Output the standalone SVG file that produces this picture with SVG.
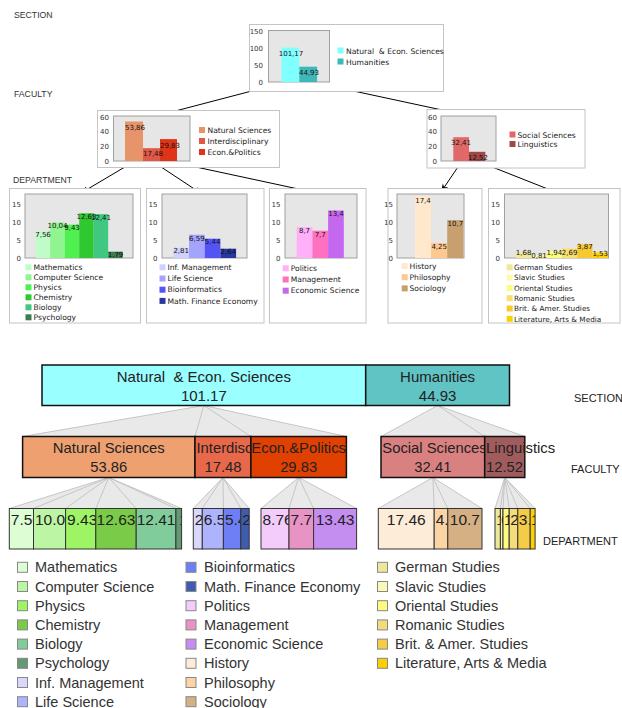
<svg xmlns="http://www.w3.org/2000/svg" width="622" height="708" viewBox="0 0 622 708">
<style>
.panel{fill:#fff;stroke:#c4c4c4;stroke-width:1}
.plot{fill:#e6e6e6;stroke:#a0a0a0;stroke-width:1}
.ax{font-family:"DejaVu Sans",sans-serif;font-size:7px;fill:#333;text-anchor:end}
.val{font-family:"DejaVu Sans",sans-serif;font-size:7px;fill:#111;text-anchor:middle}
.leg{font-family:"DejaVu Sans",sans-serif;font-size:7.6px;fill:#222}
.leg5{font-family:"DejaVu Sans",sans-serif;font-size:7.3px;fill:#222}
.lvl{font-family:"Liberation Sans",Arial,sans-serif;font-size:8.7px;fill:#333}
.lvlb{font-family:"Liberation Sans",Arial,sans-serif;font-size:11px;fill:#222}
.tm{font-family:"Liberation Sans",Arial,sans-serif;font-size:15px;fill:#222}
.tf{font-family:"Liberation Sans",Arial,sans-serif;font-size:14.8px;fill:#222}
.td{font-family:"Liberation Sans",Arial,sans-serif;font-size:15.5px;fill:#222}
.tl{font-family:"Liberation Sans",Arial,sans-serif;font-size:14.5px;fill:#333}
.c{text-anchor:middle}
.bx1{stroke:#111;stroke-width:1.5}
.bx2{stroke:#333;stroke-width:1}
.ls{stroke:#888;stroke-width:1}
.arr{stroke:#000;stroke-width:1;fill:none;marker-end:url(#ah)}
.fan{fill:#e9e9e9;stroke:none}
.fl{stroke:#c6c6c6;stroke-width:1;fill:none}
</style>
<defs>
<marker id="ah" viewBox="0 0 10 10" refX="10" refY="5" markerWidth="8" markerHeight="8" orient="auto" markerUnits="userSpaceOnUse"><path d="M0,1 L10,5 L0,9 L3,5 z" fill="#000"/></marker>
<clipPath id="c1"><rect x="9.3" y="508.5" width="24.2" height="40.5"/></clipPath>
<clipPath id="c2"><rect x="33.5" y="508.5" width="32.1" height="40.5"/></clipPath>
<clipPath id="c3"><rect x="65.6" y="508.5" width="30.2" height="40.5"/></clipPath>
<clipPath id="c4"><rect x="95.8" y="508.5" width="40.4" height="40.5"/></clipPath>
<clipPath id="c5"><rect x="136.2" y="508.5" width="39.7" height="40.5"/></clipPath>
<clipPath id="c6"><rect x="175.9" y="508.5" width="5.7" height="40.5"/></clipPath>
<clipPath id="c7"><rect x="193.3" y="508.5" width="9" height="40.5"/></clipPath>
<clipPath id="c8"><rect x="202.3" y="508.5" width="21.1" height="40.5"/></clipPath>
<clipPath id="c9"><rect x="223.4" y="508.5" width="17.4" height="40.5"/></clipPath>
<clipPath id="c10"><rect x="240.8" y="508.5" width="8.4" height="40.5"/></clipPath>
<clipPath id="c11"><rect x="261" y="508.5" width="28" height="40.5"/></clipPath>
<clipPath id="c12"><rect x="289" y="508.5" width="24.6" height="40.5"/></clipPath>
<clipPath id="c13"><rect x="313.6" y="508.5" width="43" height="40.5"/></clipPath>
<clipPath id="c14"><rect x="378.3" y="508.5" width="55.9" height="40.5"/></clipPath>
<clipPath id="c15"><rect x="434.2" y="508.5" width="13.6" height="40.5"/></clipPath>
<clipPath id="c16"><rect x="447.8" y="508.5" width="34.2" height="40.5"/></clipPath>
<clipPath id="c17"><rect x="495" y="508.5" width="5.4" height="40.5"/></clipPath>
<clipPath id="c18"><rect x="500.4" y="508.5" width="2.6" height="40.5"/></clipPath>
<clipPath id="c19"><rect x="503" y="508.5" width="6.2" height="40.5"/></clipPath>
<clipPath id="c20"><rect x="509.2" y="508.5" width="8.6" height="40.5"/></clipPath>
<clipPath id="c21"><rect x="517.8" y="508.5" width="12.4" height="40.5"/></clipPath>
<clipPath id="c22"><rect x="530.2" y="508.5" width="4.9" height="40.5"/></clipPath>
</defs>
<rect width="622" height="708" fill="#fff"/>

<g id="level-labels">
<text class="lvl" x="14" y="18">SECTION</text>
<text class="lvl" x="14" y="97">FACULTY</text>
<text class="lvl" x="13" y="183">DEPARTMENT</text>
<text class="lvlb" x="574" y="402">SECTION</text>
<text class="lvlb" x="571" y="473">FACULTY</text>
<text class="lvlb" x="543" y="545">DEPARTMENT</text>
</g>

<g id="connectors">
<line class="arr" x1="290" y1="81" x2="160" y2="115"/>
<line class="arr" x1="307" y1="81" x2="470" y2="116"/>
<line class="arr" x1="135" y1="161" x2="81" y2="193"/>
<line class="arr" x1="152" y1="161" x2="202" y2="194"/>
<line class="arr" x1="168" y1="161" x2="317" y2="193"/>
<line class="arr" x1="462" y1="161" x2="441" y2="192"/>
<line class="arr" x1="477" y1="161" x2="563" y2="195"/>
<polygon class="fan" points="203.85,405.5 22.6,436.5 346.4,436.5"/>
<path class="fl" d="M203.85,405.5 L22.6,436.5 M203.85,405.5 L195,436.5 M203.85,405.5 L250.9,436.5 M203.85,405.5 L346.4,436.5"/>
<polygon class="fan" points="437.6,405.5 381,436.5 524.8,436.5"/>
<path class="fl" d="M437.6,405.5 L381,436.5 M437.6,405.5 L484.7,436.5 M437.6,405.5 L524.8,436.5"/>
<polygon class="fan" points="108.8,477.5 9.3,508.5 181.6,508.5"/>
<path class="fl" d="M108.8,477.5 L9.3,508.5 M108.8,477.5 L33.5,508.5 M108.8,477.5 L65.6,508.5 M108.8,477.5 L95.8,508.5 M108.8,477.5 L136.2,508.5 M108.8,477.5 L175.9,508.5 M108.8,477.5 L181.6,508.5"/>
<polygon class="fan" points="222.95,477.5 193.3,508.5 249.2,508.5"/>
<path class="fl" d="M222.95,477.5 L193.3,508.5 M222.95,477.5 L202.3,508.5 M222.95,477.5 L223.4,508.5 M222.95,477.5 L240.8,508.5 M222.95,477.5 L249.2,508.5"/>
<polygon class="fan" points="298.65,477.5 261,508.5 356.6,508.5"/>
<path class="fl" d="M298.65,477.5 L261,508.5 M298.65,477.5 L289,508.5 M298.65,477.5 L313.6,508.5 M298.65,477.5 L356.6,508.5"/>
<polygon class="fan" points="432.85,477.5 378.3,508.5 482,508.5"/>
<path class="fl" d="M432.85,477.5 L378.3,508.5 M432.85,477.5 L434.2,508.5 M432.85,477.5 L447.8,508.5 M432.85,477.5 L482,508.5"/>
<polygon class="fan" points="504.75,477.5 495,508.5 535.1,508.5"/>
<path class="fl" d="M504.75,477.5 L495,508.5 M504.75,477.5 L500.4,508.5 M504.75,477.5 L503,508.5 M504.75,477.5 L509.2,508.5 M504.75,477.5 L517.8,508.5 M504.75,477.5 L530.2,508.5 M504.75,477.5 L535.1,508.5"/>
</g>

<g id="chart-section">
<rect class="panel" x="249.5" y="24.5" width="194" height="67"/>
<rect class="plot" x="268.5" y="30.5" width="61" height="51.5"/>
<text class="ax" x="263" y="33.5">150</text>
<text class="ax" x="263" y="50.5">100</text>
<text class="ax" x="263" y="67.5">50</text>
<text class="ax" x="263" y="84.5">0</text>
<rect x="281.5" y="47.6" width="17.8" height="34.4" fill="#80ffff"/>
<rect x="299.3" y="66.7" width="17.8" height="15.3" fill="#40b8b8"/>
<text class="val" x="291" y="55.5">101,17</text>
<text class="val" x="309" y="74.5">44,93</text>
<rect x="337.5" y="47.5" width="6" height="6" fill="#80ffff"/>
<text class="leg" x="346" y="54">Natural&#160; &amp; Econ. Sciences</text>
<rect x="337.5" y="58.5" width="6" height="6" fill="#40b8b8"/>
<text class="leg" x="346" y="65">Humanities</text>
</g>

<g id="chart-faculty-nat">
<rect class="panel" x="97.5" y="110.5" width="182" height="57"/>
<rect class="plot" x="113.5" y="116" width="76.5" height="45"/>
<text class="ax" x="109" y="119.5">60</text>
<text class="ax" x="109" y="134.2">40</text>
<text class="ax" x="109" y="148.8">20</text>
<text class="ax" x="109" y="163.5">0</text>
<rect x="125" y="121.5" width="18" height="39.5" fill="#e8946a"/>
<rect x="143" y="148.2" width="17" height="12.8" fill="#e05848"/>
<rect x="160" y="139.1" width="17" height="21.9" fill="#e03418"/>
<text class="val" x="135" y="130">53,86</text>
<text class="val" x="153" y="155.5">17,48</text>
<text class="val" x="170" y="147.5">29,83</text>
<rect x="199" y="127" width="6" height="6" fill="#e8946a"/>
<text class="leg" x="207.5" y="133">Natural Sciences</text>
<rect x="199" y="138" width="6" height="6" fill="#e05848"/>
<text class="leg" x="207.5" y="144">Interdisciplinary</text>
<rect x="199" y="149" width="6" height="6" fill="#e03418"/>
<text class="leg" x="207.5" y="155">Econ.&amp;Politics</text>
</g>

<g id="chart-faculty-hum">
<rect class="panel" x="427" y="109.5" width="158" height="58.5"/>
<rect class="plot" x="441" y="116" width="55" height="45"/>
<text class="ax" x="437" y="119.5">60</text>
<text class="ax" x="437" y="134.2">40</text>
<text class="ax" x="437" y="148.8">20</text>
<text class="ax" x="437" y="163.5">0</text>
<rect x="453.3" y="137.2" width="15.7" height="23.8" fill="#e06868"/>
<rect x="469" y="151.8" width="16.3" height="9.2" fill="#a04848"/>
<text class="val" x="461" y="144.5">32,41</text>
<text class="val" x="478" y="159.5">12,52</text>
<rect x="509.5" y="131.5" width="6" height="6" fill="#e06868"/>
<text class="leg" x="517.5" y="137.5">Social Sciences</text>
<rect x="509.5" y="141" width="6" height="6" fill="#a04848"/>
<text class="leg" x="517.5" y="147">Linguistics</text>
</g>

<g id="chart-dept-nat">
<rect class="panel" x="9.5" y="188.5" width="131" height="134.5"/>
<rect class="plot" x="25" y="194" width="108" height="64"/>
<text class="ax" x="21" y="207.4">15</text>
<text class="ax" x="21" y="225.1">10</text>
<text class="ax" x="21" y="242.8">5</text>
<text class="ax" x="21" y="260.5">0</text>
<rect x="35.7" y="231.2" width="14.5" height="26.8" fill="#c0fcc8"/>
<rect x="50.2" y="222.5" width="14.5" height="35.5" fill="#90f490"/>
<rect x="64.7" y="224.6" width="14.5" height="33.4" fill="#50f050"/>
<rect x="79.2" y="213.3" width="14.5" height="44.7" fill="#30c830"/>
<rect x="93.7" y="214.1" width="14.5" height="43.9" fill="#40c880"/>
<rect x="108.2" y="251.7" width="14.5" height="6.3" fill="#3c7c50"/>
<text class="val" x="43" y="236.9">7,56</text>
<text class="val" x="57.5" y="228.2">10,04</text>
<text class="val" x="72" y="230.3">9,43</text>
<text class="val" x="86.5" y="218.5">12,63</text>
<text class="val" x="101" y="219.8">12,41</text>
<text class="val" x="115.5" y="257.4">1,79</text>
<rect x="25.5" y="264.3" width="6" height="6" fill="#c0fcc8"/>
<text class="leg" x="33.5" y="270">Mathematics</text>
<rect x="25.5" y="274.3" width="6" height="6" fill="#90f490"/>
<text class="leg" x="33.5" y="280">Computer Science</text>
<rect x="25.5" y="284.3" width="6" height="6" fill="#50f050"/>
<text class="leg" x="33.5" y="290">Physics</text>
<rect x="25.5" y="294.3" width="6" height="6" fill="#30c830"/>
<text class="leg" x="33.5" y="300">Chemistry</text>
<rect x="25.5" y="304.3" width="6" height="6" fill="#40c880"/>
<text class="leg" x="33.5" y="310">Biology</text>
<rect x="25.5" y="314.3" width="6" height="6" fill="#3c7c50"/>
<text class="leg" x="33.5" y="320">Psychology</text>
</g>

<g id="chart-dept-int">
<rect class="panel" x="146.5" y="188.5" width="117.5" height="134.5"/>
<rect class="plot" x="162" y="194" width="85" height="64"/>
<text class="ax" x="157.5" y="207.4">15</text>
<text class="ax" x="157.5" y="225.1">10</text>
<text class="ax" x="157.5" y="242.8">5</text>
<text class="ax" x="157.5" y="260.5">0</text>
<rect x="173.3" y="248.1" width="15.7" height="9.9" fill="#d0d0fc"/>
<rect x="189" y="234.7" width="15.7" height="23.3" fill="#a4a4fc"/>
<rect x="204.7" y="238.7" width="15.7" height="19.3" fill="#5454f4"/>
<rect x="220.4" y="248.7" width="15.7" height="9.3" fill="#2838a0"/>
<text class="val" x="181.2" y="253">2,81</text>
<text class="val" x="196.9" y="240.5">6,59</text>
<text class="val" x="212.6" y="244.4">5,44</text>
<text class="val" x="228.3" y="254.4">2,64</text>
<rect x="159.5" y="264.3" width="6" height="6" fill="#d0d0fc"/>
<text class="leg" x="167.5" y="270">Inf. Management</text>
<rect x="159.5" y="275.5" width="6" height="6" fill="#a4a4fc"/>
<text class="leg" x="167.5" y="281.2">Life Science</text>
<rect x="159.5" y="286.7" width="6" height="6" fill="#5454f4"/>
<text class="leg" x="167.5" y="292.4">Bioinformatics</text>
<rect x="159.5" y="297.9" width="6" height="6" fill="#2838a0"/>
<text class="leg" x="167.5" y="303.6">Math. Finance Economy</text>
</g>

<g id="chart-dept-econ">
<rect class="panel" x="269.5" y="188.5" width="96.5" height="134.5"/>
<rect class="plot" x="285" y="194" width="72" height="64"/>
<text class="ax" x="280.5" y="207.4">15</text>
<text class="ax" x="280.5" y="225.1">10</text>
<text class="ax" x="280.5" y="242.8">5</text>
<text class="ax" x="280.5" y="260.5">0</text>
<rect x="296.7" y="227.2" width="15.7" height="30.8" fill="#ffb0f8"/>
<rect x="312.4" y="230.7" width="15.7" height="27.3" fill="#ff70c0"/>
<rect x="328.1" y="210.5" width="15.7" height="47.5" fill="#c468f0"/>
<text class="val" x="304.5" y="233.4">8,7</text>
<text class="val" x="320.2" y="237">7,7</text>
<text class="val" x="336" y="215.5">13,4</text>
<rect x="282.7" y="265.3" width="6" height="6" fill="#ffb0f8"/>
<text class="leg" x="290.7" y="271">Politics</text>
<rect x="282.7" y="276.5" width="6" height="6" fill="#ff70c0"/>
<text class="leg" x="290.7" y="282.2">Management</text>
<rect x="282.7" y="287.7" width="6" height="6" fill="#c468f0"/>
<text class="leg" x="290.7" y="293.4">Economic Science</text>
</g>

<g id="chart-dept-soc">
<rect class="panel" x="388" y="188.5" width="94" height="134.5"/>
<rect class="plot" x="397" y="194" width="67" height="64"/>
<text class="ax" x="393" y="207.4">15</text>
<text class="ax" x="393" y="225.1">10</text>
<text class="ax" x="393" y="242.8">5</text>
<text class="ax" x="393" y="260.5">0</text>
<rect x="415" y="196.2" width="16.1" height="61.8" fill="#ffe8cc"/>
<rect x="431.1" y="243" width="16.1" height="15" fill="#ffc890"/>
<rect x="447.2" y="220.1" width="16.1" height="37.9" fill="#c8a070"/>
<text class="val" x="423" y="202.7">17,4</text>
<text class="val" x="439.2" y="248.5">4,25</text>
<text class="val" x="455.3" y="225.5">10,7</text>
<rect x="401.7" y="263" width="6" height="6" fill="#ffe8cc"/>
<text class="leg" x="409.5" y="268.7">History</text>
<rect x="401.7" y="274.2" width="6" height="6" fill="#ffc890"/>
<text class="leg" x="409.5" y="279.9">Philosophy</text>
<rect x="401.7" y="285.4" width="6" height="6" fill="#c8a070"/>
<text class="leg" x="409.5" y="291.1">Sociology</text>
</g>

<g id="chart-dept-ling">
<rect class="panel" x="488.5" y="188.5" width="131.5" height="134.5"/>
<rect class="plot" x="504.5" y="194" width="104" height="64"/>
<text class="ax" x="500" y="207.4">15</text>
<text class="ax" x="500" y="225.1">10</text>
<text class="ax" x="500" y="242.8">5</text>
<text class="ax" x="500" y="260.5">0</text>
<rect x="516" y="252.1" width="15.3" height="5.9" fill="#f0e898"/>
<rect x="531.3" y="255.1" width="15.3" height="2.9" fill="#fcfca8"/>
<rect x="546.6" y="251.1" width="15.3" height="6.9" fill="#fcfc80"/>
<rect x="561.9" y="248.5" width="15.3" height="9.5" fill="#f8e070"/>
<rect x="577.2" y="244.3" width="15.3" height="13.7" fill="#f8c830"/>
<rect x="592.5" y="252.6" width="15.3" height="5.4" fill="#fcd000"/>
<text class="val" x="523.6" y="255">1,68</text>
<text class="val" x="539" y="258">0,81</text>
<text class="val" x="554.3" y="254.5">1,94</text>
<text class="val" x="569.6" y="254.5">2,69</text>
<text class="val" x="584.9" y="248.7">3,87</text>
<text class="val" x="600.2" y="256">1,53</text>
<rect x="506.7" y="264.3" width="6" height="6" fill="#f0e898"/>
<text class="leg5" x="514" y="270">German Studies</text>
<rect x="506.7" y="274.6" width="6" height="6" fill="#fcfca8"/>
<text class="leg5" x="514" y="280.3">Slavic Studies</text>
<rect x="506.7" y="284.9" width="6" height="6" fill="#fcfc80"/>
<text class="leg5" x="514" y="290.6">Oriental Studies</text>
<rect x="506.7" y="295.2" width="6" height="6" fill="#f8e070"/>
<text class="leg5" x="514" y="300.9">Romanic Studies</text>
<rect x="506.7" y="305.5" width="6" height="6" fill="#f8c830"/>
<text class="leg5" x="514" y="311.2">Brit. &amp; Amer. Studies</text>
<rect x="506.7" y="315.8" width="6" height="6" fill="#fcd000"/>
<text class="leg5" x="514" y="321.5">Literature, Arts &amp; Media</text>
</g>

<g id="tm-sec-nat">
<rect class="bx1" x="42" y="365" width="323.7" height="40.5" fill="#99ffff"/>
<text class="tm c" x="203.85" y="381.5">Natural&#160; &amp; Econ. Sciences</text>
<text class="tm c" x="203.85" y="400.5">101.17</text>
</g>
<g id="tm-sec-hum">
<rect class="bx1" x="365.7" y="365" width="143.8" height="40.5" fill="#60c4c4"/>
<text class="tm c" x="437.6" y="381.5">Humanities</text>
<text class="tm c" x="437.6" y="400.5">44.93</text>
</g>

<g id="tm-fac-nat">
<rect class="bx1" x="22.6" y="436.5" width="172.4" height="41" fill="#eea070"/>
<text class="tf c" x="108.8" y="452.5">Natural Sciences</text>
<text class="tf c" x="108.8" y="471.8">53.86</text>
</g>
<g id="tm-fac-int">
<rect class="bx1" x="195" y="436.5" width="55.9" height="41" fill="#e8684a"/>
<text class="tf" x="196.5" y="452.5">Interdisciplinary</text>
<text class="tf c" x="222.95" y="471.8">17.48</text>
</g>
<g id="tm-fac-econ">
<rect class="bx1" x="250.9" y="436.5" width="95.5" height="41" fill="#e04000"/>
<text class="tf c" x="298.65" y="452.5">Econ.&amp;Politics</text>
<text class="tf c" x="298.65" y="471.8">29.83</text>
</g>
<g id="tm-fac-soc">
<rect class="bx1" x="381" y="436.5" width="103.7" height="41" fill="#d98080"/>
<text class="tf" x="382.3" y="452.5">Social Sciences</text>
<text class="tf c" x="432.85" y="471.8">32.41</text>
</g>
<g id="tm-fac-ling">
<rect class="bx1" x="484.7" y="436.5" width="40.1" height="41" fill="#a05c5c"/>
<text class="tf" x="486" y="452.5">Linguistics</text>
<text class="tf" x="486" y="471.8">12.52</text>
</g>

<g id="tm-d-math"><rect class="bx2" x="9.3" y="508.5" width="24.2" height="40.5" fill="#ddfdd5"/><text class="td" clip-path="url(#c1)" x="10.8" y="525">7.56</text></g>
<g id="tm-d-cs"><rect class="bx2" x="33.5" y="508.5" width="32.1" height="40.5" fill="#bcf5a4"/><text class="td" clip-path="url(#c2)" x="35" y="525">10.04</text></g>
<g id="tm-d-phys"><rect class="bx2" x="65.6" y="508.5" width="30.2" height="40.5" fill="#9df566"/><text class="td" clip-path="url(#c3)" x="67.1" y="525">9.43</text></g>
<g id="tm-d-chem"><rect class="bx2" x="95.8" y="508.5" width="40.4" height="40.5" fill="#7acc48"/><text class="td c" clip-path="url(#c4)" x="116" y="525">12.63</text></g>
<g id="tm-d-bio"><rect class="bx2" x="136.2" y="508.5" width="39.7" height="40.5" fill="#80cc9a"/><text class="td c" clip-path="url(#c5)" x="156.05" y="525">12.41</text></g>
<g id="tm-d-psy"><rect class="bx2" x="175.9" y="508.5" width="5.7" height="40.5" fill="#629a72"/><text class="td" clip-path="url(#c6)" x="179" y="525">1.79</text></g>
<g id="tm-d-inf"><rect class="bx2" x="193.3" y="508.5" width="9" height="40.5" fill="#d8d8fc"/><text class="td" clip-path="url(#c7)" x="194.8" y="525">2.81</text></g>
<g id="tm-d-life"><rect class="bx2" x="202.3" y="508.5" width="21.1" height="40.5" fill="#adb3fc"/><text class="td" clip-path="url(#c8)" x="203.8" y="525">6.59</text></g>
<g id="tm-d-bioinf"><rect class="bx2" x="223.4" y="508.5" width="17.4" height="40.5" fill="#6e7ff6"/><text class="td" clip-path="url(#c9)" x="224.9" y="525">5.44</text></g>
<g id="tm-d-mfe"><rect class="bx2" x="240.8" y="508.5" width="8.4" height="40.5" fill="#3f5db0"/><text class="td" clip-path="url(#c10)" x="242.3" y="525">2.64</text></g>
<g id="tm-d-pol"><rect class="bx2" x="261" y="508.5" width="28" height="40.5" fill="#f4ccfc"/><text class="td" clip-path="url(#c11)" x="262.5" y="525">8.76</text></g>
<g id="tm-d-mgmt"><rect class="bx2" x="289" y="508.5" width="24.6" height="40.5" fill="#e794c4"/><text class="td c" clip-path="url(#c12)" x="301.3" y="525">7.7</text></g>
<g id="tm-d-eco"><rect class="bx2" x="313.6" y="508.5" width="43" height="40.5" fill="#c38ef0"/><text class="td c" clip-path="url(#c13)" x="335.1" y="525">13.43</text></g>
<g id="tm-d-hist"><rect class="bx2" x="378.3" y="508.5" width="55.9" height="40.5" fill="#fcecd8"/><text class="td c" clip-path="url(#c14)" x="406.25" y="525">17.46</text></g>
<g id="tm-d-phil"><rect class="bx2" x="434.2" y="508.5" width="13.6" height="40.5" fill="#fcd4a4"/><text class="td" clip-path="url(#c15)" x="435.7" y="525">4.25</text></g>
<g id="tm-d-soc"><rect class="bx2" x="447.8" y="508.5" width="34.2" height="40.5" fill="#d4b084"/><text class="td c" clip-path="url(#c16)" x="464.9" y="525">10.7</text></g>
<g id="tm-d-ger"><rect class="bx2" x="495" y="508.5" width="5.4" height="40.5" fill="#ede79a"/><text class="td" clip-path="url(#c17)" x="496.2" y="525">1.68</text></g>
<g id="tm-d-sla"><rect class="bx2" x="500.4" y="508.5" width="2.6" height="40.5" fill="#fcf8b8"/><text class="td" clip-path="url(#c18)" x="501.2" y="525">0.81</text></g>
<g id="tm-d-ori"><rect class="bx2" x="503" y="508.5" width="6.2" height="40.5" fill="#fcfa80"/><text class="td" clip-path="url(#c19)" x="504" y="525">1.94</text></g>
<g id="tm-d-rom"><rect class="bx2" x="509.2" y="508.5" width="8.6" height="40.5" fill="#f5dc7a"/><text class="td" clip-path="url(#c20)" x="510.2" y="525">2.69</text></g>
<g id="tm-d-brit"><rect class="bx2" x="517.8" y="508.5" width="12.4" height="40.5" fill="#f5cc48"/><text class="td" clip-path="url(#c21)" x="518.8" y="525">3.87</text></g>
<g id="tm-d-lit"><rect class="bx2" x="530.2" y="508.5" width="4.9" height="40.5" fill="#fcd000"/><text class="td" clip-path="url(#c22)" x="531" y="525">1.53</text></g>

<g id="tm-legend">
<rect class="ls" x="17.5" y="562.3" width="10" height="10" fill="#ddfdd5"/><text class="tl" x="35" y="572.3">Mathematics</text>
<rect class="ls" x="17.5" y="581.5" width="10" height="10" fill="#bcf5a4"/><text class="tl" x="35" y="591.5">Computer Science</text>
<rect class="ls" x="17.5" y="600.7" width="10" height="10" fill="#9df566"/><text class="tl" x="35" y="610.7">Physics</text>
<rect class="ls" x="17.5" y="619.9" width="10" height="10" fill="#7acc48"/><text class="tl" x="35" y="629.9">Chemistry</text>
<rect class="ls" x="17.5" y="639.1" width="10" height="10" fill="#80cc9a"/><text class="tl" x="35" y="649.1">Biology</text>
<rect class="ls" x="17.5" y="658.3" width="10" height="10" fill="#629a72"/><text class="tl" x="35" y="668.3">Psychology</text>
<rect class="ls" x="17.5" y="677.5" width="10" height="10" fill="#d8d8fc"/><text class="tl" x="35" y="687.5">Inf. Management</text>
<rect class="ls" x="17.5" y="696.7" width="10" height="10" fill="#adb3fc"/><text class="tl" x="35" y="706.7">Life Science</text>
<rect class="ls" x="186" y="562.3" width="10" height="10" fill="#6e7ff6"/><text class="tl" x="204" y="572.3">Bioinformatics</text>
<rect class="ls" x="186" y="581.5" width="10" height="10" fill="#3f5db0"/><text class="tl" x="204" y="591.5">Math. Finance Economy</text>
<rect class="ls" x="186" y="600.7" width="10" height="10" fill="#f4ccfc"/><text class="tl" x="204" y="610.7">Politics</text>
<rect class="ls" x="186" y="619.9" width="10" height="10" fill="#e794c4"/><text class="tl" x="204" y="629.9">Management</text>
<rect class="ls" x="186" y="639.1" width="10" height="10" fill="#c38ef0"/><text class="tl" x="204" y="649.1">Economic Science</text>
<rect class="ls" x="186" y="658.3" width="10" height="10" fill="#fcecd8"/><text class="tl" x="204" y="668.3">History</text>
<rect class="ls" x="186" y="677.5" width="10" height="10" fill="#fcd4a4"/><text class="tl" x="204" y="687.5">Philosophy</text>
<rect class="ls" x="186" y="696.7" width="10" height="10" fill="#d4b084"/><text class="tl" x="204" y="706.7">Sociology</text>
<rect class="ls" x="377.5" y="562.3" width="10" height="10" fill="#ede79a"/><text class="tl" x="395" y="572.3">German Studies</text>
<rect class="ls" x="377.5" y="581.5" width="10" height="10" fill="#fcf8b8"/><text class="tl" x="395" y="591.5">Slavic Studies</text>
<rect class="ls" x="377.5" y="600.7" width="10" height="10" fill="#fcfa80"/><text class="tl" x="395" y="610.7">Oriental Studies</text>
<rect class="ls" x="377.5" y="619.9" width="10" height="10" fill="#f5dc7a"/><text class="tl" x="395" y="629.9">Romanic Studies</text>
<rect class="ls" x="377.5" y="639.1" width="10" height="10" fill="#f5cc48"/><text class="tl" x="395" y="649.1">Brit. &amp; Amer. Studies</text>
<rect class="ls" x="377.5" y="658.3" width="10" height="10" fill="#fcd000"/><text class="tl" x="395" y="668.3">Literature, Arts &amp; Media</text>
</g>
</svg>
